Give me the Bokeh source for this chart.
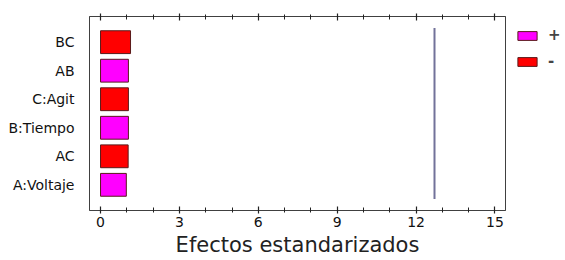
from bokeh.plotting import figure
from bokeh.models import (ColumnDataSource, FactorRange, Range1d, LinearAxis, Legend,
                          LegendItem, SingleIntervalTicker)
from bokeh.transform import dodge
from bokeh.embed import file_html
from bokeh.resources import INLINE

# data (bottom to top)
effects = ["A:Voltaje", "AC", "B:Tiempo", "C:Agit", "AB", "BC"]
values = [0.98, 1.05, 1.06, 1.06, 1.06, 1.14]
signs = ["+", "-", "+", "-", "+", "-"]
critical_value = 12.7

colors = {"+": "#FF00FF", "-": "#FF0000"}
FONT = "DejaVu Sans"
TICK = "#222222"

p = figure(frame_width=416, frame_height=194, output_backend="svg", toolbar_location=None,
           y_range=FactorRange(factors=effects, range_padding=0.4, range_padding_units="absolute"),
           x_range=Range1d(-0.42, 15.4),
           min_border_left=89, min_border_top=16, min_border_bottom=51, min_border_right=10)
p.background_fill_color = "white"
p.border_fill_color = "white"
p.outline_line_color = "#404040"
p.outline_line_width = 1
p.xgrid.grid_line_color = None
p.ygrid.grid_line_color = None

renderers = {}
for s in ["+", "-"]:
    idx = [i for i, v in enumerate(signs) if v == s]
    src = ColumnDataSource(dict(y=[effects[i] for i in idx], right=[values[i] for i in idx]))
    renderers[s] = p.hbar(y="y", left=0, right="right", height=0.8, source=src,
                          fill_color=colors[s], line_color="#5a1a1a", line_width=1)

crit_src = ColumnDataSource(dict(x=[critical_value], y0=[effects[0]], y1=[effects[-1]]))
p.segment(x0="x", x1="x", y0=dodge("y0", -0.5, range=p.y_range),
          y1=dodge("y1", 0.5, range=p.y_range), source=crit_src,
          line_color="#72729a", line_width=2)


def style_ticks(ax):
    ax.axis_line_color = "#404040"
    ax.axis_line_width = 1
    ax.major_tick_in = 4
    ax.major_tick_out = 3
    ax.minor_tick_in = 3
    ax.minor_tick_out = 2
    ax.major_tick_line_color = TICK
    ax.minor_tick_line_color = TICK
    ax.major_tick_line_width = 1.2
    ax.minor_tick_line_width = 1


xa = p.xaxis[0]
xa.ticker = SingleIntervalTicker(interval=3, num_minor_ticks=3)
xa.axis_label = "Efectos estandarizados"
xa.axis_label_text_font = FONT
xa.axis_label_text_font_style = "normal"
xa.axis_label_text_font_size = "21px"
xa.axis_label_text_color = "#222222"
xa.axis_label_standoff = 3
xa.major_label_text_font = FONT
xa.major_label_text_font_size = "14px"
xa.major_label_text_color = "#111111"
xa.major_label_standoff = 3
style_ticks(xa)

top = LinearAxis(ticker=SingleIntervalTicker(interval=3, num_minor_ticks=3))
top.major_label_text_font_size = "0px"
top.major_label_text_alpha = 0
top.major_label_standoff = 0
style_ticks(top)
p.add_layout(top, "above")

ya = p.yaxis[0]
ya.major_label_text_font = FONT
ya.major_label_text_font_size = "14px"
ya.major_label_text_color = "#111111"
ya.major_tick_line_color = None
ya.axis_line_color = None
ya.major_label_standoff = 9

legend = Legend(items=[LegendItem(label="+", renderers=[renderers["+"]]),
                       LegendItem(label="-", renderers=[renderers["-"]])],
                location="top_left")
legend.border_line_color = None
legend.background_fill_alpha = 0
legend.padding = 6
legend.margin = 10
legend.glyph_width = 24
legend.glyph_height = 11
legend.label_height = 11
legend.spacing = 8
legend.label_standoff = 9
legend.label_text_font = FONT
legend.label_text_font_size = "15px"
legend.label_text_font_style = "bold"
p.add_layout(legend, "right")

open("out.html", "w").write(file_html(p, INLINE))
